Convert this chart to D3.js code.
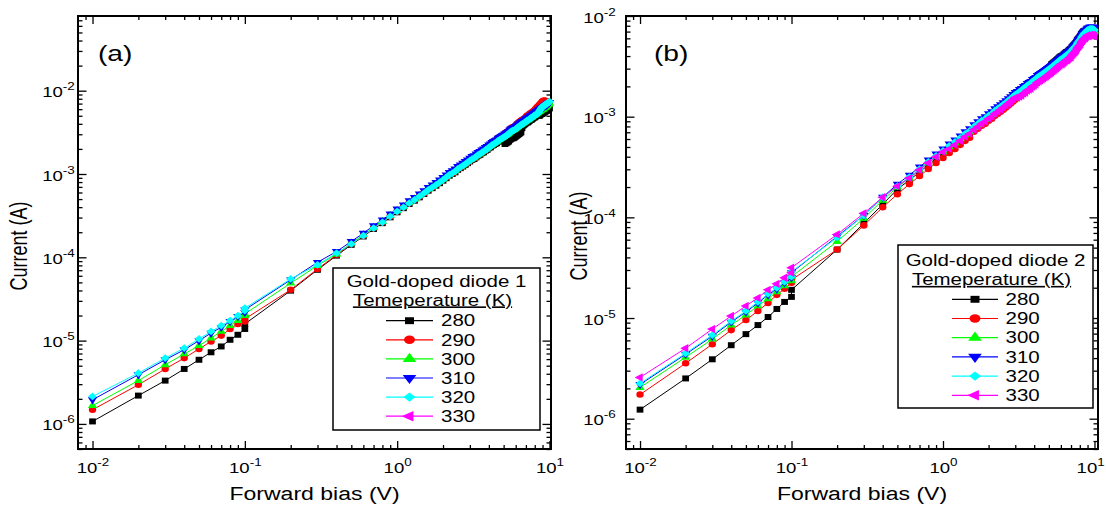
<!DOCTYPE html>
<html>
<head>
<meta charset="utf-8">
<script src="https://cdn.jsdelivr.net/npm/d3@7"></script>
<style>
  html, body { margin: 0; padding: 0; background: #fff; }
  svg { display: block; }
  text { font-family: "Liberation Sans", Arial, Helvetica, sans-serif; fill: #000; }
</style>
</head>
<body>
<svg id="chart" width="1106" height="506"></svg>
<script>
// ---------------- data ----------------
// Forward bias (V): fine sweep 0.01-0.1 V, then coarse sweep 0.1-10 V
const biasFine = [0.01,0.02,0.03,0.04,0.05,0.06,0.07,0.08,0.09,0.10];
const biasCoarse = [
  0.1,0.2,0.3,0.4,0.5,0.6,0.7,0.8,0.9,1.0,
  1.1,1.2,1.3,1.4,1.5,1.6,1.7,1.8,1.9,2.0,
  2.1,2.2,2.3,2.4,2.5,2.6,2.7,2.8,2.9,3.0,
  3.1,3.2,3.3,3.4,3.5,3.6,3.7,3.8,3.9,4.0,
  4.1,4.2,4.3,4.4,4.5,4.6,4.7,4.8,4.9,5.0,
  5.1,5.2,5.3,5.4,5.5,5.6,5.7,5.8,5.9,6.0,
  6.1,6.2,6.3,6.4,6.5,6.6,6.7,6.8,6.9,7.0,
  7.1,7.2,7.3,7.4,7.5,7.6,7.7,7.8,7.9,8.0,
  8.1,8.2,8.3,8.4,8.5,8.6,8.7,8.8,8.9,9.0,
  9.1,9.2,9.3,9.4,9.5,9.6,9.7,9.8,9.9,10.0];

const temperatures = ["280","290","300","310","320","330"];

// Currents are stored as log10(I / A).
// Diode 1
const d1_280_fine = [-5.97,-5.66,-5.48,-5.34,-5.23,-5.14,-5.07,-4.99,-4.93,-4.86];
const d1_290_fine = [-5.83,-5.53,-5.34,-5.21,-5.10,-5.01,-4.94,-4.86,-4.80,-4.77];
const d1_300_fine = [-5.78,-5.48,-5.29,-5.16,-5.06,-4.97,-4.89,-4.82,-4.76,-4.70];
const d1_310_fine = [-5.71,-5.41,-5.23,-5.11,-5.00,-4.91,-4.84,-4.77,-4.71,-4.66];
const d1_320_fine = [-5.67,-5.39,-5.21,-5.09,-4.98,-4.89,-4.82,-4.76,-4.70,-4.64];
const d1_330_fine = [];

const d1_280_coarse = [
  -4.80,-4.40,-4.15,-3.98,-3.85,-3.75,-3.66,-3.59,-3.52,-3.46,
  -3.41,-3.36,-3.32,-3.28,-3.24,-3.20,-3.17,-3.14,-3.11,-3.08,
  -3.05,-3.02,-3.00,-2.98,-2.95,-2.93,-2.91,-2.89,-2.87,-2.85,
  -2.83,-2.82,-2.80,-2.78,-2.77,-2.75,-2.74,-2.72,-2.71,-2.69,
  -2.68,-2.66,-2.65,-2.64,-2.63,-2.61,-2.60,-2.59,-2.58,-2.61,
  -2.64,-2.63,-2.62,-2.61,-2.59,-2.58,-2.57,-2.57,-2.56,-2.55,
  -2.54,-2.53,-2.52,-2.51,-2.50,-2.45,-2.42,-2.41,-2.40,-2.39,
  -2.38,-2.38,-2.37,-2.36,-2.35,-2.35,-2.34,-2.33,-2.32,-2.32,
  -2.31,-2.30,-2.30,-2.29,-2.30,-2.30,-2.29,-2.28,-2.28,-2.27,
  -2.27,-2.26,-2.25,-2.25,-2.24,-2.24,-2.23,-2.22,-2.22,-2.21];
const d1_290_coarse = [
  -4.74,-4.39,-4.14,-3.97,-3.84,-3.74,-3.65,-3.58,-3.51,-3.45,
  -3.40,-3.35,-3.31,-3.27,-3.23,-3.19,-3.16,-3.13,-3.10,-3.07,
  -3.04,-3.01,-2.99,-2.97,-2.94,-2.92,-2.90,-2.88,-2.86,-2.84,
  -2.82,-2.81,-2.79,-2.77,-2.76,-2.74,-2.73,-2.71,-2.70,-2.68,
  -2.64,-2.62,-2.61,-2.60,-2.59,-2.57,-2.56,-2.55,-2.54,-2.53,
  -2.51,-2.50,-2.49,-2.48,-2.46,-2.45,-2.44,-2.44,-2.43,-2.42,
  -2.40,-2.39,-2.38,-2.37,-2.36,-2.35,-2.35,-2.34,-2.33,-2.32,
  -2.30,-2.30,-2.29,-2.28,-2.27,-2.27,-2.26,-2.25,-2.24,-2.24,
  -2.22,-2.21,-2.20,-2.19,-2.18,-2.17,-2.16,-2.15,-2.14,-2.13,
  -2.12,-2.12,-2.12,-2.12,-2.13,-2.13,-2.13,-2.14,-2.14,-2.14];
const d1_300_coarse = [
  -4.68,-4.31,-4.10,-3.96,-3.83,-3.73,-3.64,-3.57,-3.50,-3.44,
  -3.39,-3.34,-3.30,-3.26,-3.22,-3.18,-3.15,-3.12,-3.09,-3.06,
  -3.03,-3.00,-2.98,-2.96,-2.93,-2.91,-2.89,-2.87,-2.85,-2.83,
  -2.81,-2.80,-2.78,-2.76,-2.75,-2.73,-2.72,-2.70,-2.69,-2.67,
  -2.66,-2.64,-2.63,-2.62,-2.61,-2.59,-2.58,-2.57,-2.56,-2.55,
  -2.54,-2.53,-2.52,-2.51,-2.49,-2.48,-2.47,-2.47,-2.46,-2.45,
  -2.44,-2.43,-2.42,-2.41,-2.40,-2.39,-2.39,-2.38,-2.37,-2.36,
  -2.35,-2.35,-2.34,-2.33,-2.32,-2.32,-2.31,-2.30,-2.29,-2.29,
  -2.28,-2.27,-2.27,-2.26,-2.25,-2.25,-2.24,-2.23,-2.23,-2.22,
  -2.22,-2.21,-2.20,-2.20,-2.19,-2.18,-2.17,-2.16,-2.16,-2.15];
const d1_310_coarse = [
  -4.63,-4.27,-4.06,-3.93,-3.81,-3.71,-3.62,-3.55,-3.48,-3.42,
  -3.37,-3.32,-3.28,-3.24,-3.20,-3.16,-3.13,-3.10,-3.07,-3.04,
  -3.01,-2.98,-2.96,-2.94,-2.91,-2.89,-2.87,-2.85,-2.83,-2.81,
  -2.79,-2.78,-2.76,-2.74,-2.73,-2.71,-2.70,-2.68,-2.67,-2.65,
  -2.64,-2.62,-2.61,-2.60,-2.59,-2.57,-2.56,-2.55,-2.54,-2.53,
  -2.52,-2.51,-2.50,-2.49,-2.47,-2.46,-2.45,-2.45,-2.44,-2.43,
  -2.42,-2.41,-2.40,-2.39,-2.38,-2.37,-2.37,-2.36,-2.35,-2.34,
  -2.33,-2.33,-2.32,-2.31,-2.30,-2.30,-2.29,-2.28,-2.27,-2.27,
  -2.26,-2.25,-2.25,-2.24,-2.23,-2.23,-2.22,-2.21,-2.21,-2.20,
  -2.20,-2.19,-2.18,-2.18,-2.17,-2.17,-2.16,-2.15,-2.15,-2.14];
const d1_320_coarse = [
  -4.61,-4.26,-4.09,-3.95,-3.84,-3.74,-3.65,-3.58,-3.51,-3.45,
  -3.40,-3.35,-3.31,-3.27,-3.23,-3.19,-3.16,-3.13,-3.10,-3.07,
  -3.04,-3.01,-2.99,-2.97,-2.94,-2.92,-2.90,-2.88,-2.86,-2.84,
  -2.82,-2.81,-2.79,-2.77,-2.76,-2.74,-2.73,-2.71,-2.70,-2.68,
  -2.67,-2.65,-2.64,-2.63,-2.62,-2.60,-2.59,-2.58,-2.57,-2.56,
  -2.55,-2.54,-2.53,-2.52,-2.50,-2.49,-2.48,-2.48,-2.47,-2.46,
  -2.45,-2.44,-2.43,-2.42,-2.41,-2.40,-2.40,-2.39,-2.38,-2.37,
  -2.36,-2.36,-2.35,-2.34,-2.33,-2.33,-2.32,-2.31,-2.30,-2.30,
  -2.29,-2.28,-2.28,-2.27,-2.26,-2.24,-2.23,-2.21,-2.20,-2.19,
  -2.19,-2.18,-2.17,-2.17,-2.16,-2.16,-2.15,-2.14,-2.14,-2.13];
const d1_330_coarse = [];

// Diode 2
const d2_280_fine = [-5.91,-5.60,-5.41,-5.27,-5.16,-5.07,-4.99,-4.91,-4.84,-4.79];
const d2_290_fine = [-5.76,-5.45,-5.26,-5.12,-5.02,-4.93,-4.85,-4.77,-4.71,-4.65];
const d2_300_fine = [-5.69,-5.39,-5.21,-5.07,-4.97,-4.88,-4.81,-4.74,-4.68,-4.63];
const d2_310_fine = [-5.66,-5.36,-5.18,-5.04,-4.94,-4.85,-4.77,-4.71,-4.65,-4.60];
const d2_320_fine = [-5.65,-5.35,-5.17,-5.03,-4.93,-4.84,-4.76,-4.70,-4.64,-4.59];
const d2_330_fine = [-5.59,-5.30,-5.11,-4.98,-4.88,-4.80,-4.72,-4.66,-4.60,-4.55];

const d2_280_coarse = [
  -4.72,-4.32,-4.06,-3.87,-3.72,-3.63,-3.55,-3.48,-3.42,-3.37,
  -3.32,-3.28,-3.24,-3.20,-3.17,-3.13,-3.10,-3.07,-3.05,-3.02,
  -3.00,-2.97,-2.95,-2.93,-2.91,-2.89,-2.87,-2.85,-2.83,-2.81,
  -2.80,-2.78,-2.77,-2.75,-2.74,-2.72,-2.71,-2.70,-2.68,-2.67,
  -2.66,-2.64,-2.63,-2.62,-2.61,-2.60,-2.59,-2.58,-2.57,-2.56,
  -2.51,-2.48,-2.47,-2.46,-2.45,-2.44,-2.43,-2.42,-2.41,-2.40,
  -2.40,-2.39,-2.38,-2.37,-2.36,-2.36,-2.35,-2.34,-2.33,-2.33,
  -2.31,-2.30,-2.29,-2.28,-2.27,-2.26,-2.24,-2.23,-2.22,-2.21,
  -2.20,-2.18,-2.17,-2.16,-2.15,-2.16,-2.16,-2.15,-2.14,-2.13,
  -2.13,-2.13,-2.12,-2.12,-2.12,-2.12,-2.12,-2.12,-2.13,-2.13];
const d2_290_coarse = [
  -4.62,-4.32,-4.08,-3.90,-3.77,-3.67,-3.59,-3.52,-3.46,-3.41,
  -3.36,-3.32,-3.28,-3.24,-3.21,-3.15,-3.12,-3.09,-3.07,-3.04,
  -3.02,-2.99,-2.97,-2.95,-2.93,-2.91,-2.89,-2.87,-2.85,-2.83,
  -2.81,-2.79,-2.78,-2.76,-2.75,-2.73,-2.72,-2.71,-2.69,-2.68,
  -2.67,-2.65,-2.64,-2.63,-2.62,-2.61,-2.60,-2.59,-2.58,-2.57,
  -2.56,-2.55,-2.54,-2.53,-2.52,-2.51,-2.50,-2.49,-2.48,-2.47,
  -2.47,-2.46,-2.45,-2.44,-2.43,-2.43,-2.42,-2.41,-2.40,-2.40,
  -2.38,-2.37,-2.36,-2.35,-2.34,-2.33,-2.31,-2.30,-2.29,-2.28,
  -2.27,-2.25,-2.24,-2.23,-2.22,-2.21,-2.21,-2.20,-2.19,-2.18,
  -2.18,-2.18,-2.17,-2.17,-2.17,-2.17,-2.17,-2.17,-2.18,-2.18];
const d2_300_coarse = [
  -4.59,-4.24,-4.01,-3.83,-3.70,-3.61,-3.53,-3.46,-3.40,-3.35,
  -3.30,-3.26,-3.22,-3.18,-3.15,-3.11,-3.08,-3.05,-3.03,-3.00,
  -2.98,-2.95,-2.93,-2.91,-2.89,-2.87,-2.85,-2.83,-2.81,-2.79,
  -2.78,-2.76,-2.75,-2.73,-2.72,-2.70,-2.69,-2.68,-2.66,-2.65,
  -2.64,-2.62,-2.61,-2.60,-2.59,-2.58,-2.57,-2.56,-2.55,-2.54,
  -2.53,-2.52,-2.51,-2.50,-2.49,-2.48,-2.47,-2.46,-2.45,-2.44,
  -2.44,-2.43,-2.42,-2.41,-2.40,-2.40,-2.39,-2.38,-2.37,-2.37,
  -2.35,-2.34,-2.33,-2.32,-2.31,-2.30,-2.28,-2.27,-2.26,-2.25,
  -2.24,-2.22,-2.21,-2.20,-2.19,-2.18,-2.18,-2.17,-2.16,-2.15,
  -2.15,-2.15,-2.14,-2.14,-2.14,-2.14,-2.14,-2.14,-2.15,-2.15];
const d2_310_coarse = [
  -4.55,-4.19,-3.98,-3.80,-3.67,-3.58,-3.50,-3.43,-3.37,-3.32,
  -3.27,-3.23,-3.19,-3.15,-3.12,-3.08,-3.05,-3.02,-3.00,-2.97,
  -2.95,-2.92,-2.90,-2.88,-2.86,-2.84,-2.82,-2.80,-2.78,-2.76,
  -2.75,-2.73,-2.72,-2.70,-2.69,-2.67,-2.66,-2.65,-2.63,-2.62,
  -2.61,-2.59,-2.58,-2.57,-2.56,-2.55,-2.54,-2.53,-2.52,-2.51,
  -2.50,-2.49,-2.48,-2.47,-2.46,-2.45,-2.44,-2.43,-2.42,-2.41,
  -2.41,-2.40,-2.39,-2.38,-2.37,-2.37,-2.36,-2.35,-2.34,-2.34,
  -2.32,-2.31,-2.30,-2.29,-2.28,-2.27,-2.25,-2.24,-2.23,-2.22,
  -2.21,-2.19,-2.18,-2.17,-2.16,-2.15,-2.15,-2.14,-2.13,-2.12,
  -2.12,-2.12,-2.11,-2.11,-2.11,-2.11,-2.11,-2.11,-2.12,-2.12];
const d2_320_coarse = [
  -4.54,-4.20,-3.98,-3.80,-3.69,-3.60,-3.52,-3.45,-3.39,-3.34,
  -3.29,-3.25,-3.21,-3.17,-3.14,-3.10,-3.07,-3.04,-3.02,-2.99,
  -2.97,-2.94,-2.92,-2.90,-2.88,-2.86,-2.84,-2.82,-2.80,-2.78,
  -2.77,-2.75,-2.74,-2.72,-2.71,-2.69,-2.68,-2.67,-2.65,-2.64,
  -2.63,-2.61,-2.60,-2.59,-2.58,-2.57,-2.56,-2.55,-2.54,-2.53,
  -2.52,-2.51,-2.50,-2.49,-2.48,-2.47,-2.46,-2.45,-2.44,-2.43,
  -2.43,-2.42,-2.41,-2.40,-2.39,-2.39,-2.38,-2.37,-2.36,-2.36,
  -2.34,-2.33,-2.32,-2.31,-2.30,-2.29,-2.27,-2.26,-2.25,-2.24,
  -2.23,-2.21,-2.20,-2.19,-2.18,-2.17,-2.17,-2.16,-2.15,-2.14,
  -2.14,-2.14,-2.13,-2.13,-2.13,-2.13,-2.13,-2.13,-2.14,-2.14];
const d2_330_coarse = [
  -4.50,-4.17,-3.96,-3.80,-3.69,-3.61,-3.53,-3.46,-3.40,-3.35,
  -3.32,-3.28,-3.24,-3.20,-3.17,-3.13,-3.10,-3.07,-3.05,-3.02,
  -3.00,-2.97,-2.95,-2.93,-2.91,-2.89,-2.87,-2.85,-2.83,-2.81,
  -2.81,-2.80,-2.79,-2.77,-2.76,-2.74,-2.73,-2.72,-2.70,-2.69,
  -2.68,-2.66,-2.65,-2.64,-2.63,-2.62,-2.61,-2.60,-2.59,-2.58,
  -2.57,-2.56,-2.55,-2.54,-2.53,-2.52,-2.51,-2.50,-2.49,-2.48,
  -2.48,-2.47,-2.46,-2.45,-2.44,-2.44,-2.43,-2.42,-2.41,-2.41,
  -2.39,-2.38,-2.37,-2.36,-2.35,-2.34,-2.32,-2.31,-2.30,-2.29,
  -2.28,-2.26,-2.25,-2.24,-2.23,-2.22,-2.22,-2.21,-2.20,-2.19,
  -2.20,-2.20,-2.19,-2.19,-2.19,-2.19,-2.19,-2.19,-2.20,-2.20];

// ---------------- styles ----------------
const SX = 1.28; // horizontal text/marker stretch
const WIDTH = 1106;
const seriesStyle = {
  "280": { color: "#000000", shape: "square" },
  "290": { color: "#ff0000", shape: "circle" },
  "300": { color: "#00ff00", shape: "up" },
  "310": { color: "#0000ff", shape: "down" },
  "320": { color: "#00ffff", shape: "diamond" },
  "330": { color: "#ff00ff", shape: "left" }
};

function symbolPath(shape, area) {
  const type = { square: d3.symbolSquare, circle: d3.symbolCircle, diamond: d3.symbolSquare,
                 up: d3.symbolTriangle, down: d3.symbolTriangle, left: d3.symbolTriangle }[shape];
  return d3.symbol().type(type).size(area)();
}
const rotation = { square: 0, circle: 0, diamond: 45, up: 0, down: 180, left: -90 };
const plotArea = { square: 36, circle: 34, diamond: 30, up: 30, down: 30, left: 30 };
const legendArea = { square: 48, circle: 56, diamond: 42, up: 48, down: 48, left: 48 };

const svg = d3.select("#chart");

function stretchedText(parent, x, y, str, size, anchor) {
  return parent.append("text")
    .attr("transform", `translate(${x},${y}) scale(${SX},1)`)
    .attr("text-anchor", anchor || "start")
    .attr("font-size", size)
    .text(str);
}

function build(series) {
  return series.map(s => ({
    temp: s.temp,
    points: biasFine.slice(0, s.fine.length).map((v, i) => [v, Math.pow(10, s.fine[i])])
      .concat(biasCoarse.slice(0, s.coarse.length).map((v, i) => [v, Math.pow(10, s.coarse[i])]))
  }));
}

const panels = [
  {
    tag: "(a)", tagX: 98, tagY: 61,
    left: 78, right: 551, top: 16, bottom: 449,
    xDomain: [0.00803, 10.23], yDomain: [5.0e-7, 0.0788],
    yLabelPad: 2.5, yTitleX: 27, yTitleY: 246,
    legend: { x0: 333, y0: 268, x1: 540, y1: 430, cx: 436.5, t1: 287, t2: 305.5,
              row0: 320.7, rowGap: 19.1, lx0: 386, lx1: 433, tx: 441 },
    title: "Gold-doped diode 1",
    series: build([
      { temp: "280", fine: d1_280_fine, coarse: d1_280_coarse },
      { temp: "290", fine: d1_290_fine, coarse: d1_290_coarse },
      { temp: "300", fine: d1_300_fine, coarse: d1_300_coarse },
      { temp: "310", fine: d1_310_fine, coarse: d1_310_coarse },
      { temp: "320", fine: d1_320_fine, coarse: d1_320_coarse },
      { temp: "330", fine: d1_330_fine, coarse: d1_330_coarse }
    ])
  },
  {
    tag: "(b)", tagX: 654, tagY: 61,
    left: 626, right: 1098, top: 16, bottom: 449,
    xDomain: [0.00808, 10.55], yDomain: [5.0e-7, 1e-2],
    yLabelPad: 8, yTitleX: 587, yTitleY: 236,
    legend: { x0: 898, y0: 245, x1: 1093, y1: 408, cx: 995.5, t1: 266, t2: 285,
              row0: 299.3, rowGap: 19.2, lx0: 952, lx1: 998, tx: 1005.5 },
    title: "Gold-doped diode 2",
    series: build([
      { temp: "280", fine: d2_280_fine, coarse: d2_280_coarse },
      { temp: "290", fine: d2_290_fine, coarse: d2_290_coarse },
      { temp: "300", fine: d2_300_fine, coarse: d2_300_coarse },
      { temp: "310", fine: d2_310_fine, coarse: d2_310_coarse },
      { temp: "320", fine: d2_320_fine, coarse: d2_320_coarse },
      { temp: "330", fine: d2_330_fine, coarse: d2_330_coarse }
    ])
  }
];

function decades(domain) {
  const lo = Math.ceil(Math.log10(domain[0]) - 1e-9), hi = Math.floor(Math.log10(domain[1]) + 1e-9);
  return d3.range(lo, hi + 1).map(e => Math.pow(10, e));
}
function minors(domain) {
  const out = [];
  const lo = Math.floor(Math.log10(domain[0])), hi = Math.floor(Math.log10(domain[1]));
  for (let e = lo; e <= hi; e++) {
    for (let m = 2; m <= 9; m++) {
      const v = m * Math.pow(10, e);
      if (v >= domain[0] && v <= domain[1]) out.push(v);
    }
  }
  return out;
}

function powerLabel(sel) {
  sel.each(function (d) {
    const t = d3.select(this);
    t.text(null);
    t.append("tspan").text("10");
    t.append("tspan").attr("dy", -7).attr("font-size", 10.5).text(String(Math.round(Math.log10(d))));
  });
}

function drawPanel(p) {
  const x = d3.scaleLog().domain(p.xDomain).range([p.left, p.right]);
  const y = d3.scaleLog().domain(p.yDomain).range([p.bottom, p.top]);
  const g = svg.append("g");

  const xMaj = decades(p.xDomain), xMin = minors(p.xDomain);
  const yMaj = decades(p.yDomain), yMin = minors(p.yDomain);

  const styleAxis = sel => {
    sel.select(".domain").remove();
    sel.selectAll(".tick line").attr("stroke", "#000").attr("stroke-width", 1.3);
  };

  // bottom
  g.append("g").attr("transform", `translate(0,${p.bottom})`)
    .call(d3.axisBottom(x).tickValues(xMin).tickSize(-4).tickFormat(""))
    .call(styleAxis);
  const bx = g.append("g").attr("transform", `translate(0,${p.bottom})`)
    .call(d3.axisBottom(x).tickValues(xMaj).tickSize(-8).tickPadding(0))
    .call(styleAxis);
  bx.selectAll(".tick text")
    .attr("y", 24).attr("dy", null)
    .attr("font-size", 14.5).attr("fill", "#000")
    .attr("font-family", '"Liberation Sans", Arial, sans-serif')
    .attr("transform", `scale(${SX},1)`)
    .call(powerLabel);
  // keep the last label inside the page
  bx.selectAll(".tick text").each(function () {
    const r = this.getBoundingClientRect();
    if (r.right > WIDTH - 1) {
      d3.select(this).attr("x", -(r.right - (WIDTH - 1)) / SX);
    }
  });

  // top
  g.append("g").attr("transform", `translate(0,${p.top})`)
    .call(d3.axisTop(x).tickValues(xMin).tickSize(-4).tickFormat(""))
    .call(styleAxis);
  g.append("g").attr("transform", `translate(0,${p.top})`)
    .call(d3.axisTop(x).tickValues(xMaj).tickSize(-8).tickFormat(""))
    .call(styleAxis);

  // left
  g.append("g").attr("transform", `translate(${p.left},0)`)
    .call(d3.axisLeft(y).tickValues(yMin).tickSize(-4.5).tickFormat(""))
    .call(styleAxis);
  const ly = g.append("g").attr("transform", `translate(${p.left},0)`)
    .call(d3.axisLeft(y).tickValues(yMaj).tickSize(-8.5).tickPadding(p.yLabelPad))
    .call(styleAxis);
  ly.selectAll(".tick text")
    .attr("y", 6).attr("dy", null)
    .attr("font-size", 14.5).attr("fill", "#000")
    .attr("font-family", '"Liberation Sans", Arial, sans-serif')
    .attr("transform", `scale(${SX},1)`)
    .call(powerLabel);

  // right
  g.append("g").attr("transform", `translate(${p.right},0)`)
    .call(d3.axisRight(y).tickValues(yMin).tickSize(-4.5).tickFormat(""))
    .call(styleAxis);
  g.append("g").attr("transform", `translate(${p.right},0)`)
    .call(d3.axisRight(y).tickValues(yMaj).tickSize(-8.5).tickFormat(""))
    .call(styleAxis);

  // frame
  g.append("rect")
    .attr("x", p.left).attr("y", p.top)
    .attr("width", p.right - p.left).attr("height", p.bottom - p.top)
    .attr("fill", "none").attr("stroke", "#000").attr("stroke-width", 2);

  // series: line then symbols, in temperature order
  const line = d3.line().x(d => x(d[0])).y(d => y(d[1]));
  p.series.forEach(s => {
    const st = seriesStyle[s.temp];
    if (!s.points.length) return;
    g.append("path").datum(s.points)
      .attr("d", line).attr("fill", "none")
      .attr("stroke", st.color).attr("stroke-width", 1);
    g.append("g").selectAll("path").data(s.points).join("path")
      .attr("d", symbolPath(st.shape, plotArea[st.shape]))
      .attr("transform", d => `translate(${x(d[0])},${y(d[1])}) scale(1.12,1) rotate(${rotation[st.shape]})`)
      .attr("fill", st.color);
  });

  // panel tag
  stretchedText(g, p.tagX, p.tagY, p.tag, 22, "start");

  // axis titles
  stretchedText(g, (p.left + p.right) / 2, 500, "Forward bias (V)", 18, "middle");
  g.append("text")
    .attr("transform", `translate(${p.yTitleX},${p.yTitleY}) scale(${SX},1) rotate(-90)`)
    .attr("text-anchor", "middle").attr("font-size", 18)
    .text("Current (A)");

  // legend
  const L = p.legend;
  const lg = g.append("g");
  lg.append("rect")
    .attr("x", L.x0).attr("y", L.y0).attr("width", L.x1 - L.x0).attr("height", L.y1 - L.y0)
    .attr("fill", "#fff").attr("stroke", "#000").attr("stroke-width", 1.5);
  stretchedText(lg, L.cx, L.t1, p.title, 16, "middle");
  stretchedText(lg, L.cx - 4, L.t2, "Temeperature (K)", 16, "middle")
    .attr("text-decoration", "underline");
  temperatures.forEach((t, i) => {
    const st = seriesStyle[t];
    const cy = L.row0 + i * L.rowGap;
    lg.append("line")
      .attr("x1", L.lx0).attr("x2", L.lx1).attr("y1", cy).attr("y2", cy)
      .attr("stroke", st.color).attr("stroke-width", 1.2);
    lg.append("path")
      .attr("d", symbolPath(st.shape, legendArea[st.shape]))
      .attr("transform", `translate(${(L.lx0 + L.lx1) / 2},${cy}) scale(1.3,1) rotate(${rotation[st.shape]})`)
      .attr("fill", st.color);
    stretchedText(lg, L.tx, cy + 5.7, t, 16, "start");
  });
}

panels.forEach(drawPanel);
</script>
</body>
</html>
